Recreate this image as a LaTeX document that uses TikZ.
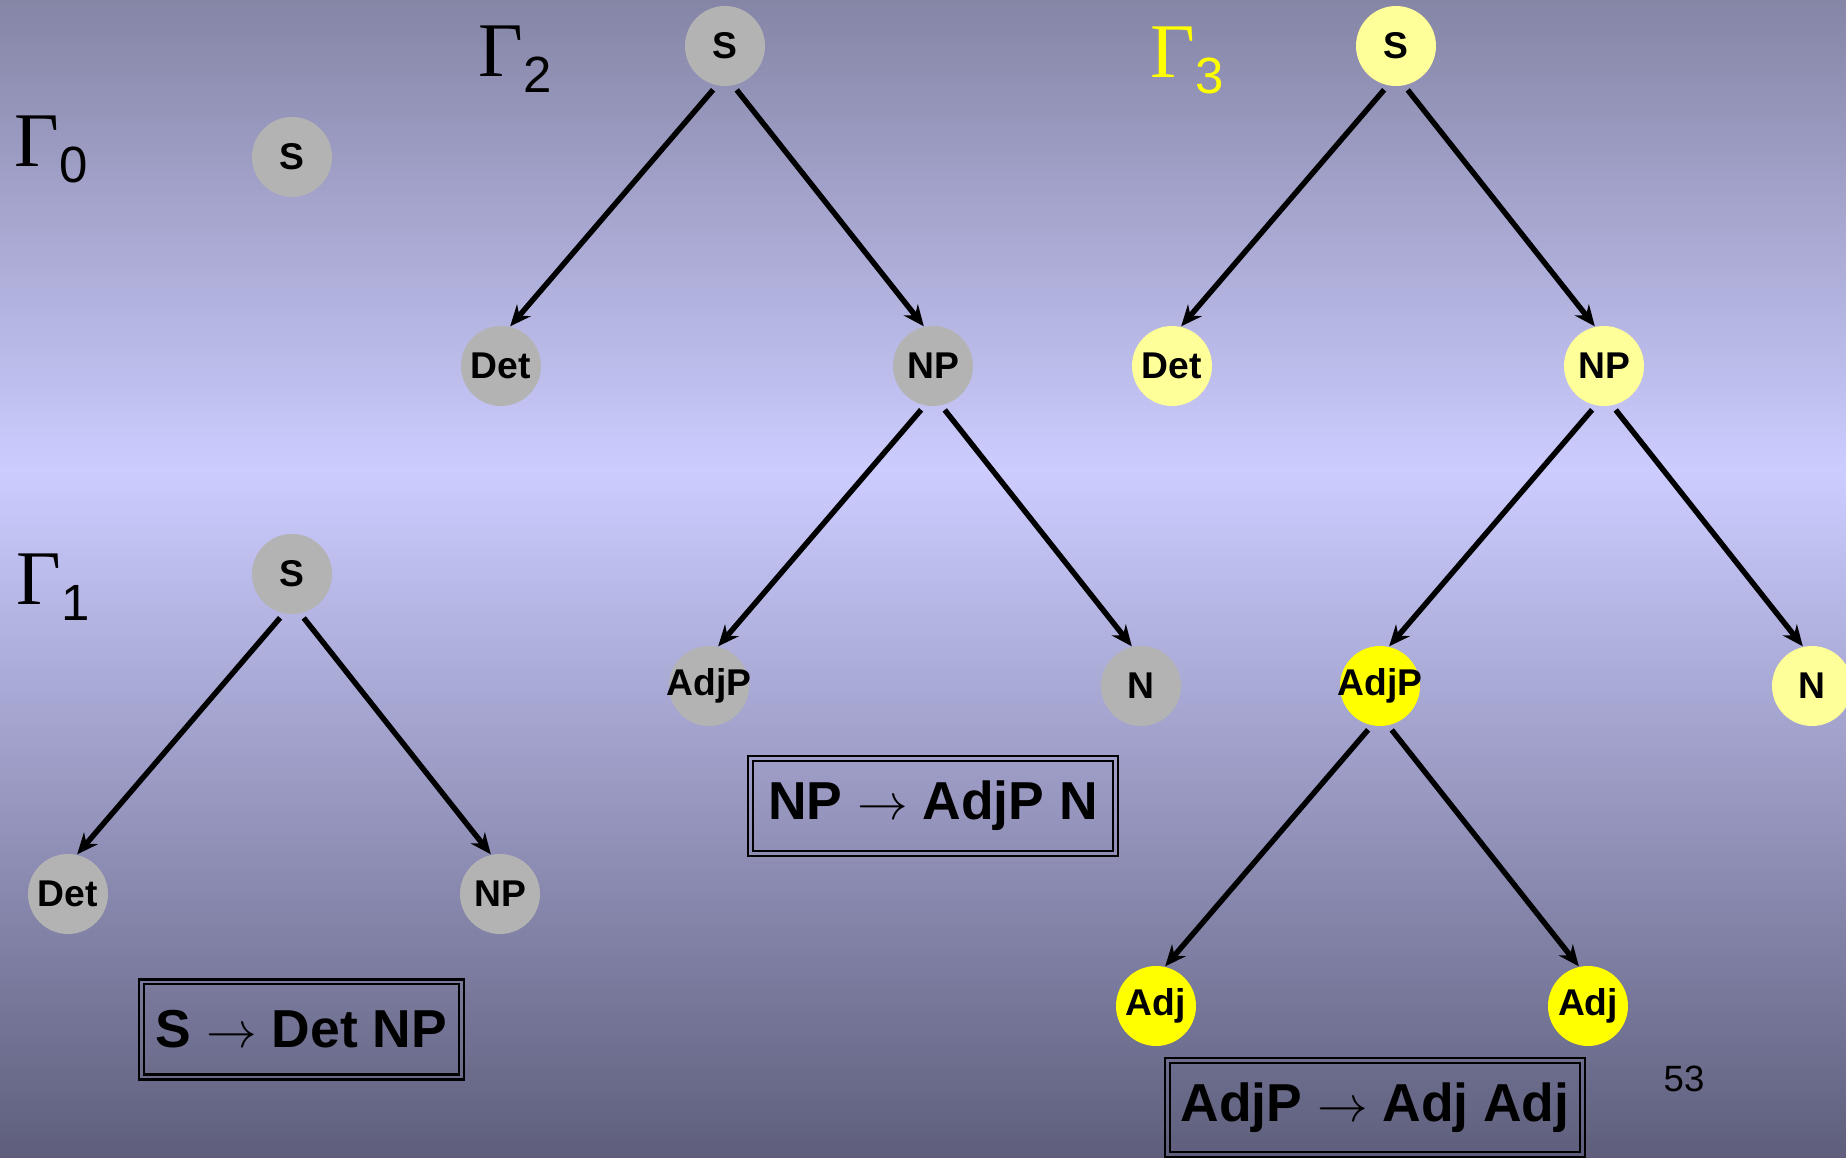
\documentclass[tikz,border=0pt]{standalone}
\usepackage{fontspec}
\setmainfont{Liberation Sans}
\newfontfamily\gfont{Liberation Serif}
\usetikzlibrary{arrows.meta, positioning}
\definecolor{bgtop}{RGB}{133,133,166}
\definecolor{bgmid}{RGB}{204,204,255}
\definecolor{bgbot}{RGB}{94,94,124}
\definecolor{catgray}{RGB}{179,179,179}
\definecolor{paleyel}{HTML}{FFFF99}
\definecolor{yel}{HTML}{FFFF00}
\newcommand{\gam}[1]{{\gfont\fontsize{22}{22}\selectfont Γ}\raisebox{-0.16cm}{\fontsize{14.5}{14.5}\selectfont #1}}

\begin{document}
\begin{tikzpicture}[
  cat/.style={circle, minimum size=0.8cm, inner sep=0pt, fill=catgray, font=\fontsize{10.6}{12}\selectfont\bfseries},
  done/.style={cat, fill=paleyel},
  hot/.style={cat, fill=yel},
  rule/.style={draw, line width=0.6pt, minimum height=1.0cm, inner sep=0pt, font=\fontsize{15.2}{17}\selectfont\bfseries},
  gl/.style={anchor=base west, inner sep=0pt},
  arr/.style={-{Stealth[length=2.1mm, width=1.8mm]}, line width=1.55pt, shorten <=1.5pt},
  on grid
]
\useasboundingbox (0,0) rectangle (18.46,-11.58);
\clip (0,0) rectangle (18.46,-11.58);
\shade[top color=bgtop, bottom color=bgmid] (0,0) rectangle (18.46,-4.71);
\shade[top color=bgmid, bottom color=bgbot] (0,-4.7) rectangle (18.46,-11.58);

% Gamma 0
\node[gl] (g0) at (0.14,-1.67) {\gam{0}};
\node[cat] (s0) at (2.92,-1.57) {S};

% Gamma 1
\node[gl] (g1) at (0.16,-6.05) {\gam{1}};
\node[cat] (s1) at (2.92,-5.74) {S};
\node[cat, below left=3.2cm and 2.24cm of s1] (det1) {Det};
\node[cat, below right=3.2cm and 2.08cm of s1] (np1) {NP};
\draw[arr] (s1.-102) -- (det1.77); \draw[arr] (s1.-78) -- (np1.103);
\node[rule, minimum width=3.25cm] (r1) at (3.015,-10.295) {S $\rightarrow$ Det NP};

% Gamma 2
\node[gl] (g2) at (4.78,-0.77) {\gam{2}};
\node[cat] (s2) at (7.25,-0.46) {S};
\node[cat, below left=3.2cm and 2.24cm of s2] (det2) {Det};
\node[cat, below right=3.2cm and 2.08cm of s2] (np2) {NP};
\node[cat, below left=3.2cm and 2.24cm of np2] (adjp2) {\makebox[0pt]{AdjP}};
\node[cat, below right=3.2cm and 2.08cm of np2] (n2) {N};
\draw[arr] (s2.-102) -- (det2.77); \draw[arr] (s2.-78) -- (np2.103);
\draw[arr] (np2.-102) -- (adjp2.77); \draw[arr] (np2.-78) -- (n2.103);
\node[rule, minimum width=3.70cm] (r2) at (9.33,-8.06) {NP $\rightarrow$ AdjP N};

% Gamma 3
\node[gl, text=yel] (g3) at (11.50,-0.78) {\gam{3}};
\node[done] (s3) at (13.96,-0.46) {S};
\node[done, below left=3.2cm and 2.24cm of s3] (det3) {Det};
\node[done, below right=3.2cm and 2.08cm of s3] (np3) {NP};
\node[hot, below left=3.2cm and 2.24cm of np3] (adjp3) {\makebox[0pt]{AdjP}};
\node[done, below right=3.2cm and 2.08cm of np3] (n3) {N};
\node[hot, below left=3.2cm and 2.24cm of adjp3] (adja) {Adj};
\node[hot, below right=3.2cm and 2.08cm of adjp3] (adjb) {Adj};
\draw[arr] (s3.-102) -- (det3.77); \draw[arr] (s3.-78) -- (np3.103);
\draw[arr] (np3.-102) -- (adjp3.77); \draw[arr] (np3.-78) -- (n3.103);
\draw[arr] (adjp3.-102) -- (adja.77); \draw[arr] (adjp3.-78) -- (adjb.103);
\node[rule, minimum width=4.20cm, minimum height=0.99cm] (r3) at (13.75,-11.075) {AdjP $\rightarrow$ Adj Adj};

\foreach \r in {r1,r2,r3}
  \draw[line width=0.6pt] ([shift={(0.06,0.06)}]\r.south west) rectangle ([shift={(-0.06,-0.06)}]\r.north east);

\node[anchor=base west, inner sep=0pt, font=\fontsize{10.4}{12}\selectfont] (pg) at (16.63,-10.92) {53};
\end{tikzpicture}
\end{document}
